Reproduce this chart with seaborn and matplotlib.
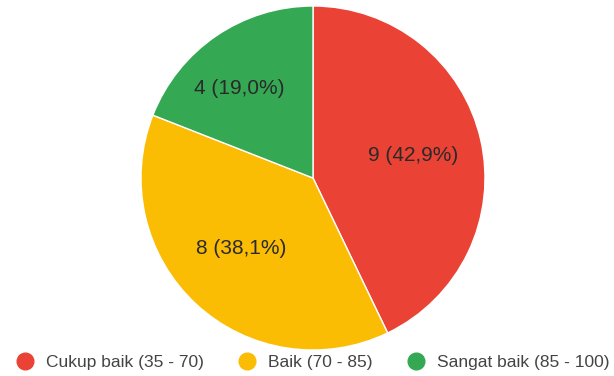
import matplotlib
matplotlib.use("Agg")
import matplotlib.pyplot as plt
import seaborn as sns
from matplotlib.lines import Line2D

categories = ["Cukup baik (35 - 70)", "Baik (70 - 85)", "Sangat baik (85 - 100)"]
values = [9, 8, 4]
colors = ["#EA4335", "#FBBC04", "#34A853"]

sns.set_theme(style="white")
plt.rcParams['font.family'] = ['Liberation Sans', 'DejaVu Sans']
pal = sns.color_palette(colors)

W, H = 614, 376
fig = plt.figure(figsize=(W / 100, H / 100), dpi=100)
cx, cy, R = 313, 178, 172
ax = fig.add_axes([(cx - R) / W, (H - cy - R) / H, 2 * R / W, 2 * R / H])

total = sum(values)
wedges, texts, autotexts = ax.pie(
    values, colors=pal, startangle=90, counterclock=False,
    autopct=lambda p: f"{round(p * total / 100)} ({p:.1f}%)".replace(".", ","),
    pctdistance=0.6, labeldistance=None,
    wedgeprops=dict(edgecolor="white", linewidth=1),
    textprops=dict(fontsize=15, color="#2a2a2a"))
ax.set_xlim(-1, 1)
ax.set_ylim(-1, 1)
ax.set_aspect("equal")
# nudge the small-slice label as in the reference
autotexts[2].set_position((-0.43, 0.52))
autotexts[1].set_position((-0.42, -0.41))

handles = [Line2D([0], [0], marker="o", linestyle="", markersize=12,
                  markerfacecolor=c, markeredgecolor=c) for c in pal]
fig.legend(handles, categories, loc="center", bbox_to_anchor=((312) / W, (H - 362) / H),
           ncol=3, frameon=False, fontsize=12.5, handletextpad=0.6, handlelength=1.2,
           columnspacing=1.9, labelcolor="#444444", borderpad=0, borderaxespad=0)

fig.savefig("out.png", dpi=100)
